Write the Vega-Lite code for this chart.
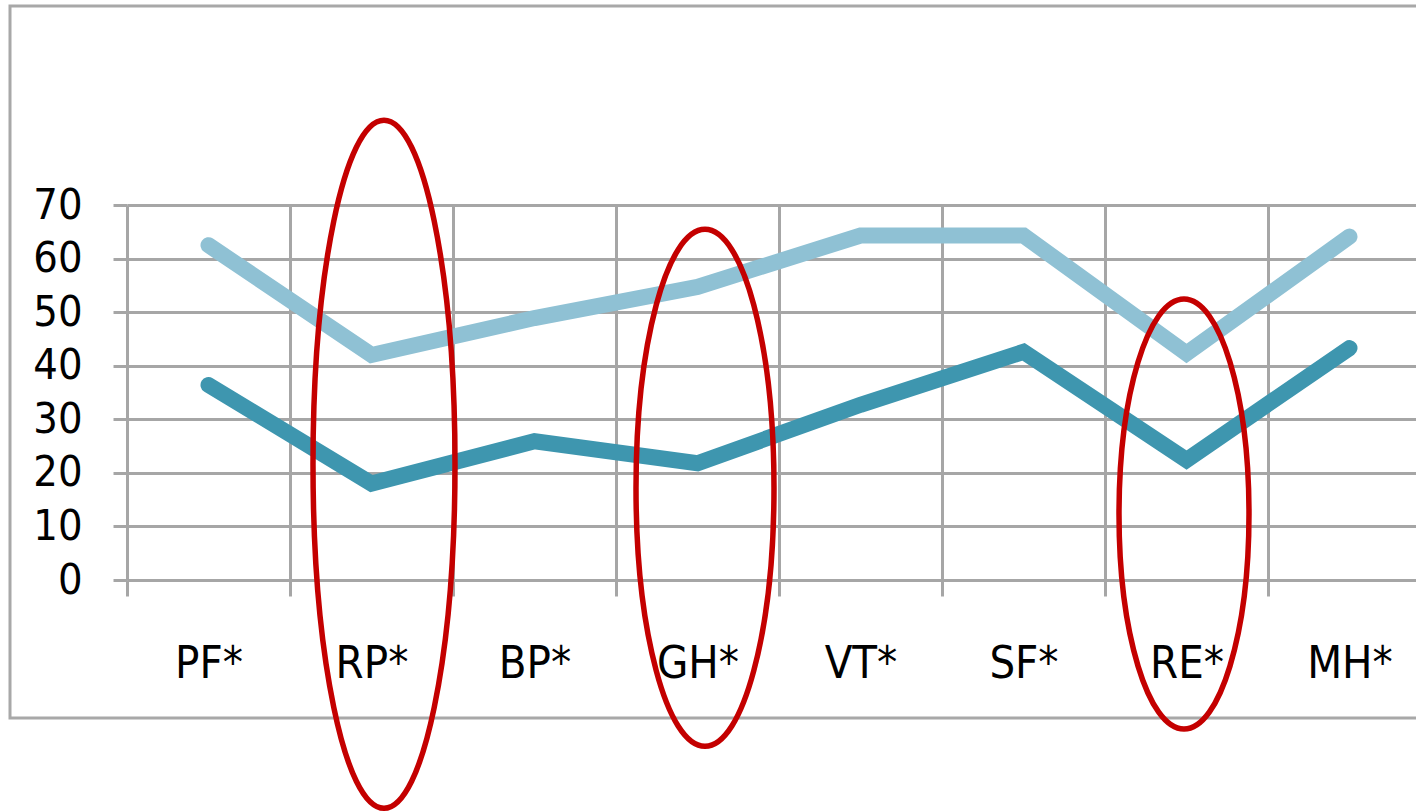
{
  "$schema": "https://vega.github.io/schema/vega-lite/v6.json",
  "width": 1289,
  "height": 375,
  "autosize": {"type": "none"},
  "padding": {"left": 127, "top": 205, "right": 0, "bottom": 232},
  "background": "white",
  "config": {"view": {"stroke": null}},
  "datasets": {
    "scores": [
      {"cat": "PF*", "series": "upper", "value": 62.5},
      {"cat": "RP*", "series": "upper", "value": 42.0},
      {"cat": "BP*", "series": "upper", "value": 48.9},
      {"cat": "GH*", "series": "upper", "value": 54.7},
      {"cat": "VT*", "series": "upper", "value": 64.3},
      {"cat": "SF*", "series": "upper", "value": 64.3},
      {"cat": "RE*", "series": "upper", "value": 42.3},
      {"cat": "MH*", "series": "upper", "value": 64.1},
      {"cat": "PF*", "series": "lower", "value": 36.4},
      {"cat": "RP*", "series": "lower", "value": 18.0},
      {"cat": "BP*", "series": "lower", "value": 25.9},
      {"cat": "GH*", "series": "lower", "value": 21.8},
      {"cat": "VT*", "series": "lower", "value": 32.7},
      {"cat": "SF*", "series": "lower", "value": 42.6},
      {"cat": "RE*", "series": "lower", "value": 22.4},
      {"cat": "MH*", "series": "lower", "value": 43.3}
    ],
    "callouts": [
      {"cat": "RP*", "center": 21.6},
      {"cat": "GH*", "center": 17.2},
      {"cat": "RE*", "center": 12.3}
    ]
  },
  "layer": [
    {
      "data": {"name": "scores"},
      "mark": {"type": "line", "strokeWidth": 16, "strokeCap": "round", "strokeJoin": "miter"},
      "encoding": {
        "x": {
          "field": "cat", "type": "nominal", "sort": null,
          "scale": {"domain": ["PF*", "RP*", "BP*", "GH*", "VT*", "SF*", "RE*", "MH*"], "range": [0, 1304], "paddingInner": 0, "paddingOuter": 0},
          "axis": {
            "title": null, "tickBand": "extent", "domain": false,
            "grid": true, "gridColor": "#a6a6a6", "gridWidth": 3,
            "ticks": true, "tickColor": "#a6a6a6", "tickWidth": 3, "tickSize": 16,
            "labelFont": "Liberation Sans Narrow, Arial Narrow, DejaVu Sans Condensed, sans-serif",
            "labelFontSize": 45, "labelColor": "#000000", "labelPadding": 45, "labelAngle": 0, "labelBaseline": "top"
          }
        },
        "y": {
          "field": "value", "type": "quantitative",
          "scale": {"domain": [0, 70], "nice": false, "zero": false},
          "axis": {
            "title": null, "values": [0, 10, 20, 30, 40, 50, 60, 70], "domain": false,
            "grid": true, "gridColor": "#a6a6a6", "gridWidth": 3,
            "tickColor": "#a6a6a6", "tickWidth": 3, "tickSize": 14,
            "labelFont": "Liberation Sans Narrow, Arial Narrow, DejaVu Sans Condensed, sans-serif",
            "labelFontSize": 43, "labelColor": "#000000", "labelPadding": 31
          }
        },
        "color": {"field": "series", "type": "nominal", "scale": {"domain": ["upper", "lower"], "range": ["#8fc1d4", "#3e96af"]}, "legend": null}
      }
    },
    {
      "data": {"values": [{}]},
      "mark": {"type": "rect", "filled": false, "stroke": "#a8a8a8", "strokeWidth": 3, "xOffset": -117, "x2Offset": 300},
      "encoding": {
        "x": {"datum": "PF*", "type": "nominal", "bandPosition": 0},
        "x2": {"datum": "MH*"},
        "y": {"datum": 107.15, "type": "quantitative", "scale": {"domain": [0, 70], "nice": false, "zero": false}},
        "y2": {"datum": -25.76}
      }
    },
    {
      "data": {"name": "callouts"},
      "transform": [{"filter": "datum.cat === 'RP*'"}],
      "mark": {"type": "point", "shape": "M0,-1 C0.114,-1 0.2064,-0.5523 0.2064,0 C0.2064,0.5523 0.114,1 0,1 C-0.114,1 -0.2064,0.5523 -0.2064,0 C-0.2064,-0.5523 -0.114,-1 0,-1 Z", "size": 473344, "filled": false, "stroke": "#c40000", "strokeWidth": 5.5, "opacity": 1, "xOffset": 12.5},
      "encoding": {
        "x": {"field": "cat", "type": "nominal"},
        "y": {"field": "center", "type": "quantitative", "scale": {"domain": [0, 70], "nice": false, "zero": false}}
      }
    },
    {
      "data": {"name": "callouts"},
      "transform": [{"filter": "datum.cat === 'GH*'"}],
      "mark": {"type": "point", "shape": "M0,-1 C0.1474,-1 0.2669,-0.5523 0.2669,0 C0.2669,0.5523 0.1474,1 0,1 C-0.1474,1 -0.2669,0.5523 -0.2669,0 C-0.2669,-0.5523 -0.1474,-1 0,-1 Z", "size": 267289, "filled": false, "stroke": "#c40000", "strokeWidth": 5.5, "opacity": 1, "xOffset": 7.5},
      "encoding": {
        "x": {"field": "cat", "type": "nominal"},
        "y": {"field": "center", "type": "quantitative", "scale": {"domain": [0, 70], "nice": false, "zero": false}}
      }
    },
    {
      "data": {"name": "callouts"},
      "transform": [{"filter": "datum.cat === 'RE*'"}],
      "mark": {"type": "point", "shape": "M0,-1 C0.167,-1 0.3023,-0.5523 0.3023,0 C0.3023,0.5523 0.167,1 0,1 C-0.167,1 -0.3023,0.5523 -0.3023,0 C-0.3023,-0.5523 -0.167,-1 0,-1 Z", "size": 184900, "filled": false, "stroke": "#c40000", "strokeWidth": 5.5, "opacity": 1, "xOffset": -2.5},
      "encoding": {
        "x": {"field": "cat", "type": "nominal"},
        "y": {"field": "center", "type": "quantitative", "scale": {"domain": [0, 70], "nice": false, "zero": false}}
      }
    }
  ]
}
